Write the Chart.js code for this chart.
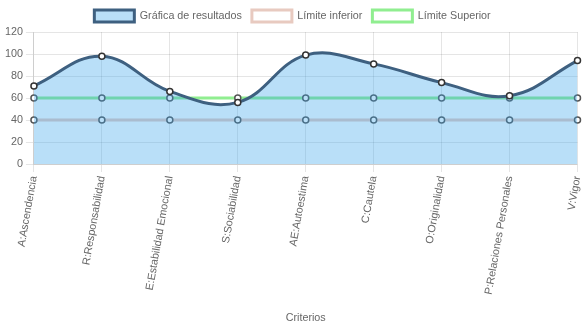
<!DOCTYPE html>
<html>
<head>
<meta charset="utf-8">
<script src="https://cdn.jsdelivr.net/npm/chart.js@4"></script>
<style>
  html, body { margin: 0; padding: 0; background: #fff; overflow: hidden; }
  #wrap { width: 583px; height: 328px; position: relative; }
</style>
</head>
<body>
<div id="wrap"><canvas id="grafica"></canvas></div>
<script>
// Criterios evaluados
const criterios = [
  'A:Ascendencia',
  'R:Responsabilidad',
  'E:Estabilidad Emocional',
  'S:Sociabilidad',
  'AE:Autoestima',
  'C:Cautela',
  'O:Originalidad',
  'P:Relaciones Personales',
  'V:Vigor'
];

// Puntajes obtenidos
const resultados = [71, 98, 66, 56, 99, 91, 74, 62, 94];

// Límites de referencia
const limiteInferior = [40, 40, 40, 40, 40, 40, 40, 40, 40];
const limiteSuperior = [60, 60, 60, 60, 60, 60, 60, 60, 60];

// Escala vertical
const yMin = 0;
const yMax = 120;
const yPaso = 20;

Chart.defaults.font.family = "'Liberation Sans', Arial, sans-serif";
Chart.defaults.font.size = 10.75;
Chart.defaults.color = '#666';

new Chart(document.getElementById('grafica'), {
  type: 'line',
  data: {
    labels: criterios,
    datasets: [
      {
        label: 'Gráfica de resultados',
        data: resultados,
        fill: 'origin',
        backgroundColor: 'rgba(54, 162, 235, 0.35)',
        borderColor: 'rgb(62, 96, 128)',
        borderWidth: 3,
        tension: 0.4,
        pointRadius: 3,
        pointBorderWidth: 1.5,
        pointBackgroundColor: '#fff',
        pointBorderColor: '#333'
      },
      {
        label: 'Límite inferior',
        data: limiteInferior,
        fill: false,
        backgroundColor: '#fff',
        borderColor: 'rgb(232, 202, 192)',
        borderWidth: 3,
        tension: 0.4,
        pointRadius: 3,
        pointBorderWidth: 1.5,
        pointBackgroundColor: '#fff',
        pointBorderColor: '#555'
      },
      {
        label: 'Límite Superior',
        data: limiteSuperior,
        fill: false,
        backgroundColor: '#fff',
        borderColor: 'rgb(144, 238, 144)',
        borderWidth: 3,
        tension: 0.4,
        pointRadius: 3,
        pointBorderWidth: 1.5,
        pointBackgroundColor: '#fff',
        pointBorderColor: '#555'
      }
    ]
  },
  options: {
    responsive: true,
    maintainAspectRatio: false,
    animation: false,
    layout: { padding: { left: 2 } },
    plugins: {
      legend: {
        display: true,
        position: 'top',
        labels: { boxWidth: 40, boxHeight: 12 }
      },
      tooltip: { enabled: false }
    },
    scales: {
      x: {
        title: { display: true, text: 'Criterios' },
        ticks: { minRotation: 80, maxRotation: 80, autoSkip: false },
        grid: { color: 'rgba(0,0,0,0.1)' },
        afterFit: (scale) => {
          // room for the slanted labels and the title; last category near the edge
          scale.height = 164;
          scale.paddingRight = 0;
        }
      },
      y: {
        min: yMin,
        max: yMax,
        ticks: { stepSize: yPaso },
        grid: { color: 'rgba(0,0,0,0.1)' }
      }
    }
  }
});
</script>
</body>
</html>
